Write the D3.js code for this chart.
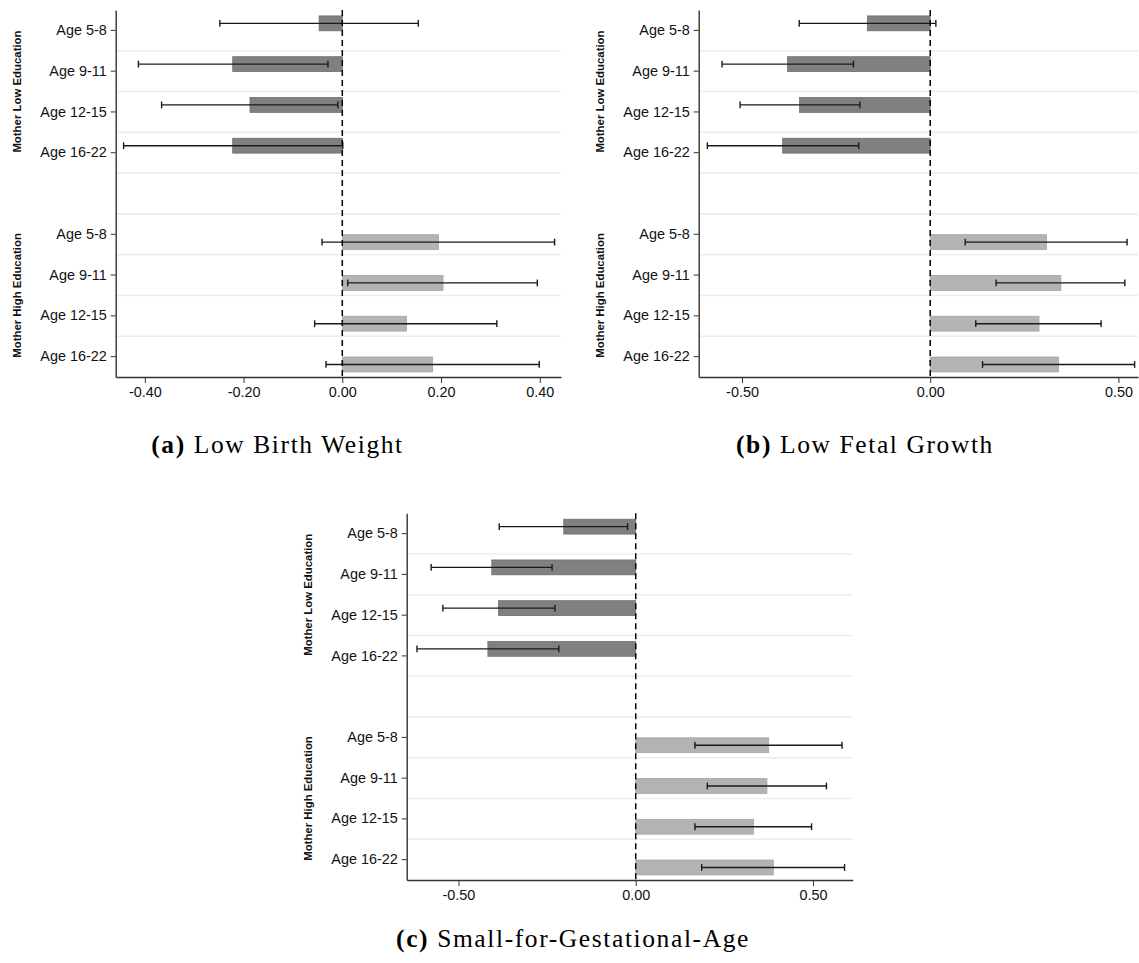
<!DOCTYPE html>
<html>
<head>
<meta charset="utf-8">
<script src="https://cdn.jsdelivr.net/npm/d3@7"></script>
<style>
  html, body { margin: 0; padding: 0; background: #fff; }
  svg { display: block; }
</style>
</head>
<body>
<svg id="fig" width="1139" height="963"></svg>
<script>
// Age-group categories and mother-education groups
const ages = ["Age 5-8", "Age 9-11", "Age 12-15", "Age 16-22"];
const groups = ["Mother Low Education", "Mother High Education"];

// Tick values for the x axes
const ticksLBW = [-0.40, -0.20, 0.00, 0.20, 0.40];
const ticksWide = [-0.50, 0.00, 0.50];

// (a) Low Birth Weight: estimates and confidence bounds
const lbwLowEst  = [-0.047, -0.222, -0.187, -0.222];
const lbwLowLo   = [-0.248, -0.413, -0.366, -0.443];
const lbwLowHi   = [ 0.154, -0.029, -0.009,  0.001];
const lbwHighEst = [ 0.195,  0.204,  0.130,  0.183];
const lbwHighLo  = [-0.041,  0.011, -0.056, -0.033];
const lbwHighHi  = [ 0.430,  0.395,  0.313,  0.399];

// (b) Low Fetal Growth
const lfgLowEst  = [-0.167, -0.379, -0.347, -0.392];
const lfgLowLo   = [-0.348, -0.553, -0.505, -0.592];
const lfgLowHi   = [ 0.015, -0.204, -0.187, -0.190];
const lfgHighEst = [ 0.309,  0.347,  0.289,  0.341];
const lfgHighLo  = [ 0.093,  0.175,  0.121,  0.139];
const lfgHighHi  = [ 0.523,  0.517,  0.454,  0.543];

// (c) Small-for-Gestational-Age
const sgaLowEst  = [-0.203, -0.406, -0.387, -0.417];
const sgaLowLo   = [-0.385, -0.577, -0.544, -0.617];
const sgaLowHi   = [-0.023, -0.236, -0.228, -0.217];
const sgaHighEst = [ 0.375,  0.370,  0.332,  0.388];
const sgaHighLo  = [ 0.167,  0.202,  0.167,  0.186];
const sgaHighHi  = [ 0.582,  0.538,  0.496,  0.589];

// Caption pieces
const captions = [
  { tag: "(a)", text: "Low Birth Weight" },
  { tag: "(b)", text: "Low Fetal Growth" },
  { tag: "(c)", text: "Small-for-Gestational-Age" }
];

const svg = d3.select("#fig");
const fmt = d => d3.format(".2f")(d).replace("\u2212", "-");
const sans = "'Liberation Sans', Arial, Helvetica, sans-serif";

function series(est, lo, hi) {
  return est.map((v, i) => ({ age: ages[i], est: v, lo: lo[i], hi: hi[i] }));
}

function drawPanel(cfg) {
  const g = svg.append("g");
  const x = d3.scaleLinear().domain(cfg.domain).range([cfg.left, cfg.right]);

  // nine row slots: four low-education rows, an empty spacer row, four high-education rows
  const slots = ages.map(a => "low|" + a).concat(["gap"], ages.map(a => "high|" + a));
  const y = d3.scaleBand().domain(slots).range([cfg.top, cfg.bottom]).padding(0);
  const bw = y.bandwidth();
  const sub = d3.scaleBand().domain(["low", "high"]).range([-0.355 * bw, 0.375 * bw]).padding(0);

  // light separators between rows
  g.append("g").selectAll("line")
    .data(slots.slice(1))
    .join("line")
    .attr("x1", cfg.left).attr("x2", cfg.right)
    .attr("y1", d => y(d)).attr("y2", d => y(d))
    .attr("stroke", "#e7eef2").attr("stroke-width", 1.6);

  const rows = [
    { key: "low",  data: series(cfg.low[0], cfg.low[1], cfg.low[2]),   fill: "#808080", stroke: "#707070" },
    { key: "high", data: series(cfg.high[0], cfg.high[1], cfg.high[2]), fill: "#b3b3b3", stroke: "#a4a4a4" }
  ];

  rows.forEach(r => {
    const cy = d => y(r.key + "|" + d.age) + bw / 2 + sub(r.key);
    const bh = sub.bandwidth();
    g.append("g").selectAll("rect")
      .data(r.data)
      .join("rect")
      .attr("x", d => Math.min(x(0), x(d.est)))
      .attr("width", d => Math.abs(x(d.est) - x(0)))
      .attr("y", d => cy(d))
      .attr("height", bh)
      .attr("fill", r.fill)
      .attr("stroke", r.stroke)
      .attr("stroke-width", 0.8);

    const eb = g.append("g").attr("stroke", "#1a1a1a").attr("stroke-width", 1.4);
    const mid = d => cy(d) + bh / 2;
    eb.selectAll("line.ci")
      .data(r.data)
      .join("line")
      .attr("class", "ci")
      .attr("x1", d => x(d.lo)).attr("x2", d => x(d.hi))
      .attr("y1", mid).attr("y2", mid);
    ["lo", "hi"].forEach(k => {
      eb.selectAll("line.cap-" + k)
        .data(r.data)
        .join("line")
        .attr("class", "cap-" + k)
        .attr("x1", d => x(d[k])).attr("x2", d => x(d[k]))
        .attr("y1", d => mid(d) - 3.4).attr("y2", d => mid(d) + 3.4);
    });
  });

  // dashed reference line at zero
  g.append("line")
    .attr("x1", x(0)).attr("x2", x(0))
    .attr("y1", cfg.top).attr("y2", cfg.bottom)
    .attr("stroke", "#000").attr("stroke-width", 1.5)
    .attr("stroke-dasharray", "6,4");

  // left axis with age labels
  const yAxis = d3.axisLeft(y)
    .tickValues(slots.filter(s => s !== "gap"))
    .tickFormat(s => s.split("|")[1])
    .tickSize(5).tickSizeOuter(0).tickPadding(4);
  const ya = g.append("g").attr("transform", `translate(${cfg.left},0)`).call(yAxis);
  ya.select(".domain").attr("stroke", "#333").attr("stroke-width", 1.4);
  ya.selectAll(".tick line").attr("stroke", "#333").attr("stroke-width", 1);
  ya.selectAll("text").attr("font-family", sans).attr("font-size", 14.4).attr("fill", "#111");

  // bottom axis
  const xAxis = d3.axisBottom(x).tickValues(cfg.ticks).tickFormat(fmt)
    .tickSize(6).tickSizeOuter(0).tickPadding(4);
  const xa = g.append("g").attr("transform", `translate(0,${cfg.bottom})`).call(xAxis);
  xa.select(".domain").attr("stroke", "#333").attr("stroke-width", 1.4);
  xa.selectAll(".tick line").attr("stroke", "#333").attr("stroke-width", 1);
  xa.selectAll("text").attr("font-family", sans).attr("font-size", 14.4).attr("fill", "#111");

  // group titles, rotated
  const lowMid = (y(slots[0]) + y(slots[3]) + bw) / 2;
  const highMid = (y(slots[5]) + y(slots[8]) + bw) / 2;
  [[groups[0], lowMid], [groups[1], highMid]].forEach(([t, cy]) => {
    g.append("text")
      .attr("transform", `translate(${cfg.titleX},${cy}) rotate(-90)`)
      .attr("text-anchor", "middle")
      .attr("dominant-baseline", "central")
      .attr("font-family", sans).attr("font-weight", "bold")
      .attr("font-size", 11.4).attr("fill", "#111")
      .text(t);
  });

  // caption under the panel
  const cap = g.append("text")
    .attr("x", cfg.capX).attr("y", cfg.capY)
    .attr("text-anchor", "middle")
    .attr("font-family", "'Liberation Serif', 'Times New Roman', serif")
    .attr("font-size", 25.5).attr("letter-spacing", 1.6).attr("fill", "#000");
  cap.append("tspan").attr("font-weight", "bold").text(cfg.caption.tag);
  cap.append("tspan").text(" " + cfg.caption.text);
}

drawPanel({
  left: 115.7, right: 561, top: 10, bottom: 377,
  domain: [-0.459, 0.443], ticks: ticksLBW, titleX: 16.5,
  low: [lbwLowEst, lbwLowLo, lbwLowHi], high: [lbwHighEst, lbwHighLo, lbwHighHi],
  caption: captions[0], capX: 277.5, capY: 453
});

drawPanel({
  left: 698.7, right: 1138, top: 10, bottom: 377,
  domain: [-0.615, 0.552], ticks: ticksWide, titleX: 600,
  low: [lfgLowEst, lfgLowLo, lfgLowHi], high: [lfgHighEst, lfgHighLo, lfgHighHi],
  caption: captions[1], capX: 865, capY: 453
});

drawPanel({
  left: 406.7, right: 852.7, top: 513.3, bottom: 880,
  domain: [-0.646, 0.612], ticks: ticksWide, titleX: 308,
  low: [sgaLowEst, sgaLowLo, sgaLowHi], high: [sgaHighEst, sgaHighLo, sgaHighHi],
  caption: captions[2], capX: 573, capY: 947
});
</script>
</body>
</html>
